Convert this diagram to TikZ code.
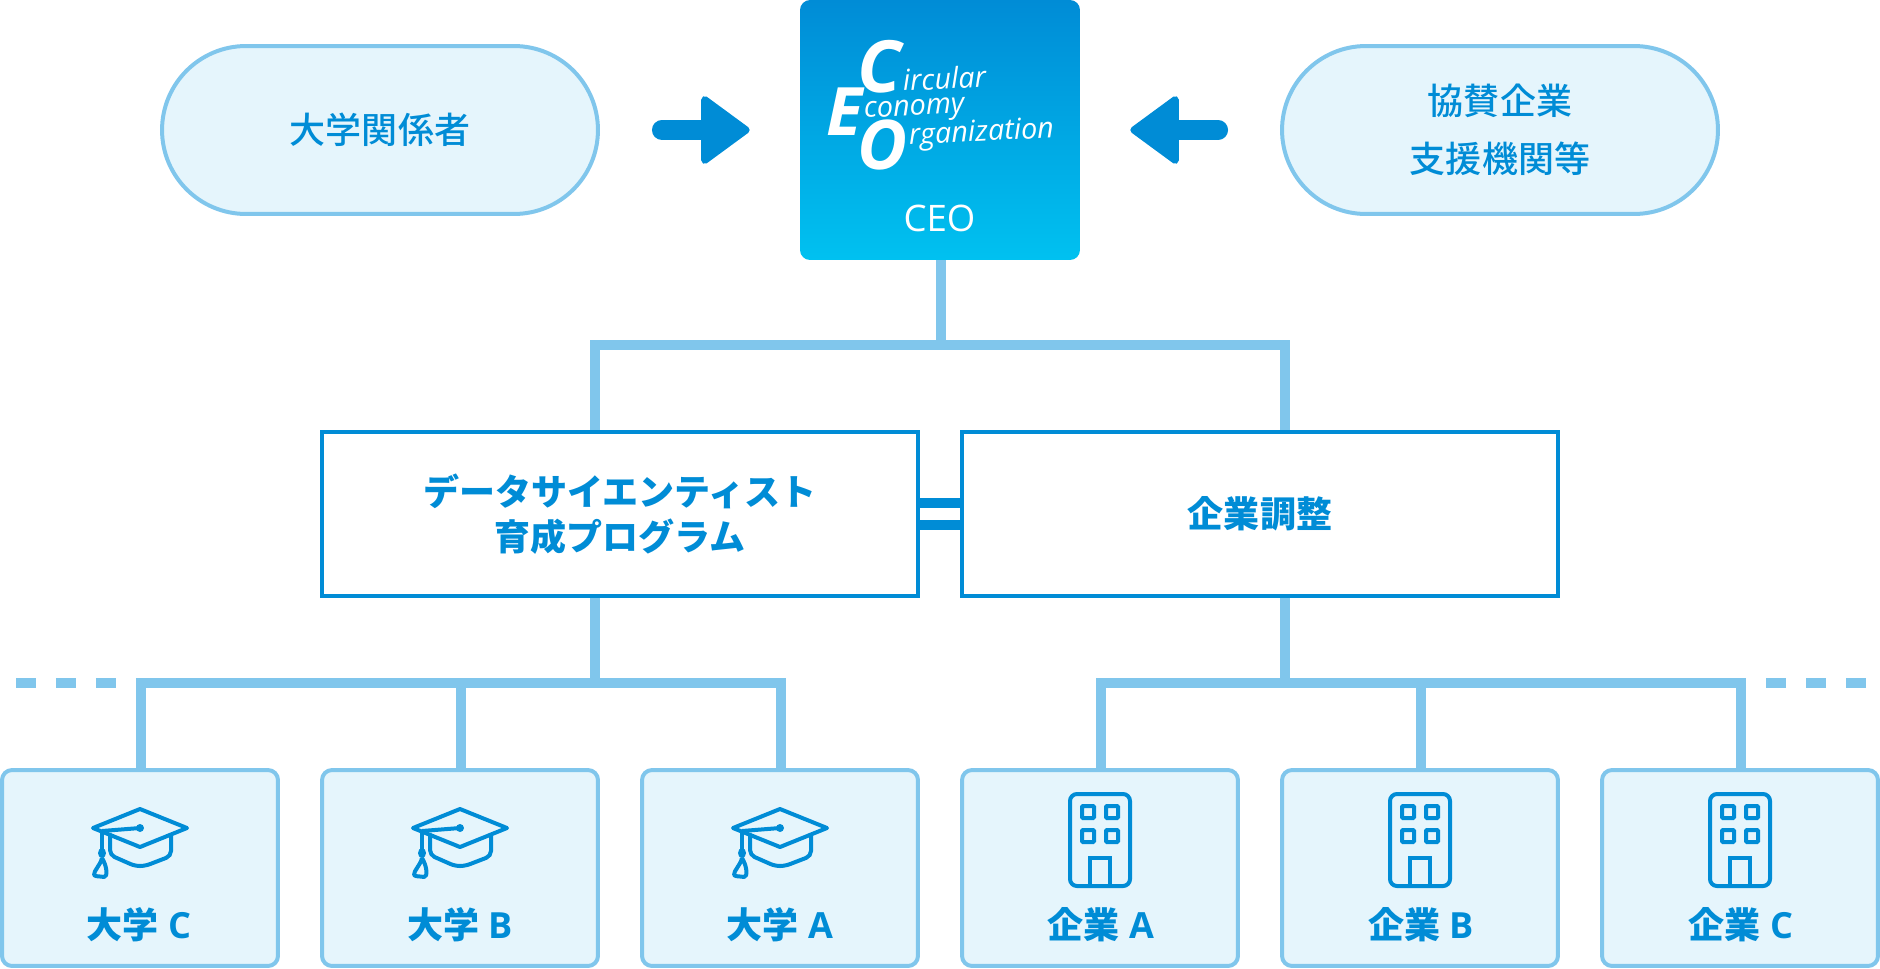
\documentclass[tikz,border=0pt]{standalone}
\usepackage{fontspec}
\setmainfont{Open Sans}
\newfontfamily\jpfont{Noto Sans CJK JP}
\newfontfamily\jpmed{Noto Sans CJK JP Medium}
\usetikzlibrary{calc,arrows.meta}
\definecolor{mainblue}{HTML}{008CD6}
\definecolor{lineblue}{HTML}{80C6EC}
\definecolor{paleblue}{HTML}{E5F5FC}
\definecolor{topblue}{HTML}{008CD6}
\definecolor{lowblue}{HTML}{00C1F0}
\newcommand{\jpsize}{\fontsize{20.5pt}{25.8pt}\selectfont}
\tikzset{
  /tikz/.cd,
  pillbox/.style={draw=lineblue,fill=paleblue,line width=.08cm,rounded corners=1.68cm,minimum width=8.72cm,minimum height=3.36cm,inner sep=0pt,align=center,text=mainblue,font=\fontsize{20.5pt}{33pt}\selectfont\jpmed},
  progbox/.style={draw=mainblue,fill=white,line width=.08cm,minimum width=11.92cm,minimum height=3.28cm,inner sep=0pt,align=center,text=mainblue,font=\jpsize\jpfont\bfseries},
  leafbox/.style={draw=lineblue,fill=paleblue,line width=.08cm,rounded corners=.2cm,minimum width=5.52cm,minimum height=3.92cm,inner sep=0pt},
  leaftext/.style={text=mainblue,inner sep=0pt,font=\jpsize\bfseries},
  treeline/.style={draw=lineblue,line width=.2cm},
  barline/.style={draw=mainblue,line width=.2cm},
  bigarrow/.style={draw=mainblue,line width=.4cm,line cap=round,-{Triangle[length=1.02cm,width=1.46cm,line width=.14cm,round]}},
  hat/.pic={
    \draw[mainblue,line width=.08cm,line join=round] (-47,0) -- (0,-19) -- (47,0) -- (0,19) -- cycle;
    \draw[mainblue,line width=.08cm,line cap=round,rounded corners=.1cm] (-30,7) -- (-30,27) -- (-5,38) -- (5,38) -- (31,28) -- (31,8);
    \draw[mainblue,line width=.08cm] (-38,3) -- (0,0);
    \fill[mainblue] (0,0) circle (4);
    \draw[mainblue,line width=.08cm] (-38,3) -- (-38,25);
    \fill[mainblue] (-38,25) ellipse (4 and 5);
    \draw[mainblue,line width=.08cm,line join=round] (-38,30) .. controls (-40,38) and (-46,42) .. (-46,47) .. controls (-44,49) and (-40,48) .. (-36,49) .. controls (-32,49) and (-33,38) .. (-38,30);
  },
  bldg/.pic={
    \draw[mainblue,line width=.08cm,rounded corners=.14cm] (-30,-46) rectangle (30,46);
    \draw[mainblue,line width=.08cm,rounded corners=.02cm] (-18,-34) rectangle (-6,-22);
    \draw[mainblue,line width=.08cm,rounded corners=.02cm] (6,-34) rectangle (18,-22);
    \draw[mainblue,line width=.08cm,rounded corners=.02cm] (-18,-10) rectangle (-6,2);
    \draw[mainblue,line width=.08cm,rounded corners=.02cm] (6,-10) rectangle (18,2);
    \draw[mainblue,line width=.08cm] (-10,46) -- (-10,18) -- (10,18) -- (10,46);
  }
}
\begin{document}
\begin{tikzpicture}[x=.02cm,y=-.02cm]
      \useasboundingbox (0,0) rectangle (1880,968);

      % top row
      \node[pillbox] (staff) at (380,130) {大学関係者};
      \node[pillbox] (sponsor) at (1500,130) {協賛企業\\支援機関等};
      \node[top color=topblue,bottom color=lowblue,rounded corners=.2cm,minimum width=5.6cm,minimum height=5.2cm,inner sep=0pt] (ceo) at (940,130) {};

      \node[white,anchor=base west,inner sep=0pt,font=\fontsize{41pt}{41pt}\selectfont\bfseries\itshape] (bigC) at (857,92) {C};
      \node[white,anchor=base west,inner sep=0pt,font=\fontsize{38pt}{38pt}\selectfont\bfseries\itshape] (bigE) at (826,135) {E};
      \node[white,anchor=base west,inner sep=0pt,font=\fontsize{39pt}{39pt}\selectfont\bfseries\itshape] (bigO) at (857,169) {O};
      \node[white,anchor=base west,inner sep=0pt,rotate=3,font=\fontsize{16.4pt}{16.4pt}\selectfont\itshape] (wordC) at (903,91) {ircular};
      \node[white,anchor=base west,inner sep=0pt,rotate=3,font=\fontsize{16.4pt}{16.4pt}\selectfont\itshape] (wordE) at (864,118) {conomy};
      \node[white,anchor=base west,inner sep=0pt,rotate=3,font=\fontsize{16.4pt}{16.4pt}\selectfont\itshape] (wordO) at (909,145) {rganization};
      \node[white,inner sep=0pt,font=\fontsize{20.8pt}{20.8pt}\selectfont] (ceotext) at (939.5,218) {CEO};

      \draw[bigarrow,shorten <=1.24cm,shorten >=1cm] (staff.east) -- (ceo.west);
      \draw[bigarrow,shorten <=1.24cm,shorten >=1cm] (sponsor.west) -- (ceo.east);

      % middle row
      \node[progbox] (prog) at (620,514) {データサイエンティスト\\育成プログラム};
      \node[progbox] (adjust) at (1260,514) {企業調整};
      \draw[barline] ([yshift=.22cm]prog.east) -- ([yshift=.22cm]adjust.west);
      \draw[barline] ([yshift=-.22cm]prog.east) -- ([yshift=-.22cm]adjust.west);

      % bottom row
      \node[leafbox] (uniC) at (140,868) {};
      \node[leafbox] (uniB) at (460,868) {};
      \node[leafbox] (uniA) at (780,868) {};
      \node[leafbox] (firmA) at (1100,868) {};
      \node[leafbox] (firmB) at (1420,868) {};
      \node[leafbox] (firmC) at (1740,868) {};

      \pic at (140,828) {hat};
      \pic at (460,828) {hat};
      \pic at (780,828) {hat};
      \pic at (1100,840) {bldg};
      \pic at (1420,840) {bldg};
      \pic at (1740,840) {bldg};

      \node[leaftext] (textUC) at (139,925) {\jpfont 大学\hspace{.26em}\rmfamily C};
      \node[leaftext] (textUB) at (460,925) {\jpfont 大学\hspace{.26em}\rmfamily B};
      \node[leaftext] (textUA) at (780,925) {\jpfont 大学\hspace{.26em}\rmfamily A};
      \node[leaftext] (textFA) at (1101,925) {\jpfont 企業\hspace{.26em}\rmfamily A};
      \node[leaftext] (textFB) at (1421,925) {\jpfont 企業\hspace{.26em}\rmfamily B};
      \node[leaftext] (textFC) at (1741,925) {\jpfont 企業\hspace{.26em}\rmfamily C};

      % tree
      \coordinate (topJ) at (941,345);
      \coordinate (topL) at (595,345);
      \coordinate (topR) at (1285,345);
      \coordinate (lowL) at (595,683);
      \coordinate (lowR) at (1285,683);
      \coordinate (dropUC) at (141,683);
      \coordinate (dropUB) at (461,683);
      \coordinate (dropUA) at (781,683);
      \coordinate (dropFA) at (1101,683);
      \coordinate (dropFB) at (1421,683);
      \coordinate (dropFC) at (1741,683);
      \coordinate (dashL) at (16,683);
      \coordinate (dashR) at (1866,683);

      \draw[treeline] (ceo.south -| topJ) -- (topJ);
      \draw[treeline] (prog.north -| topL) -- (topL) -- (topR) -- (adjust.north -| topR);
      \draw[treeline] (prog.south -| lowL) -- (lowL);
      \draw[treeline] (adjust.south -| lowR) -- (lowR);
      \draw[treeline] (uniC.north -| dropUC) -- (dropUC) -- (dropUA) -- (uniA.north -| dropUA);
      \draw[treeline] (uniB.north -| dropUB) -- (dropUB);
      \draw[treeline] (firmA.north -| dropFA) -- (dropFA) -- (dropFC) -- (firmC.north -| dropFC);
      \draw[treeline] (firmB.north -| dropFB) -- (dropFB);
      \draw[treeline,dash pattern=on .4cm off .4cm] (dashL) -- (dropUC);
      \draw[treeline,dash pattern=on .4cm off .4cm] (dashR) -- (dropFC);
\end{tikzpicture}
\end{document}
